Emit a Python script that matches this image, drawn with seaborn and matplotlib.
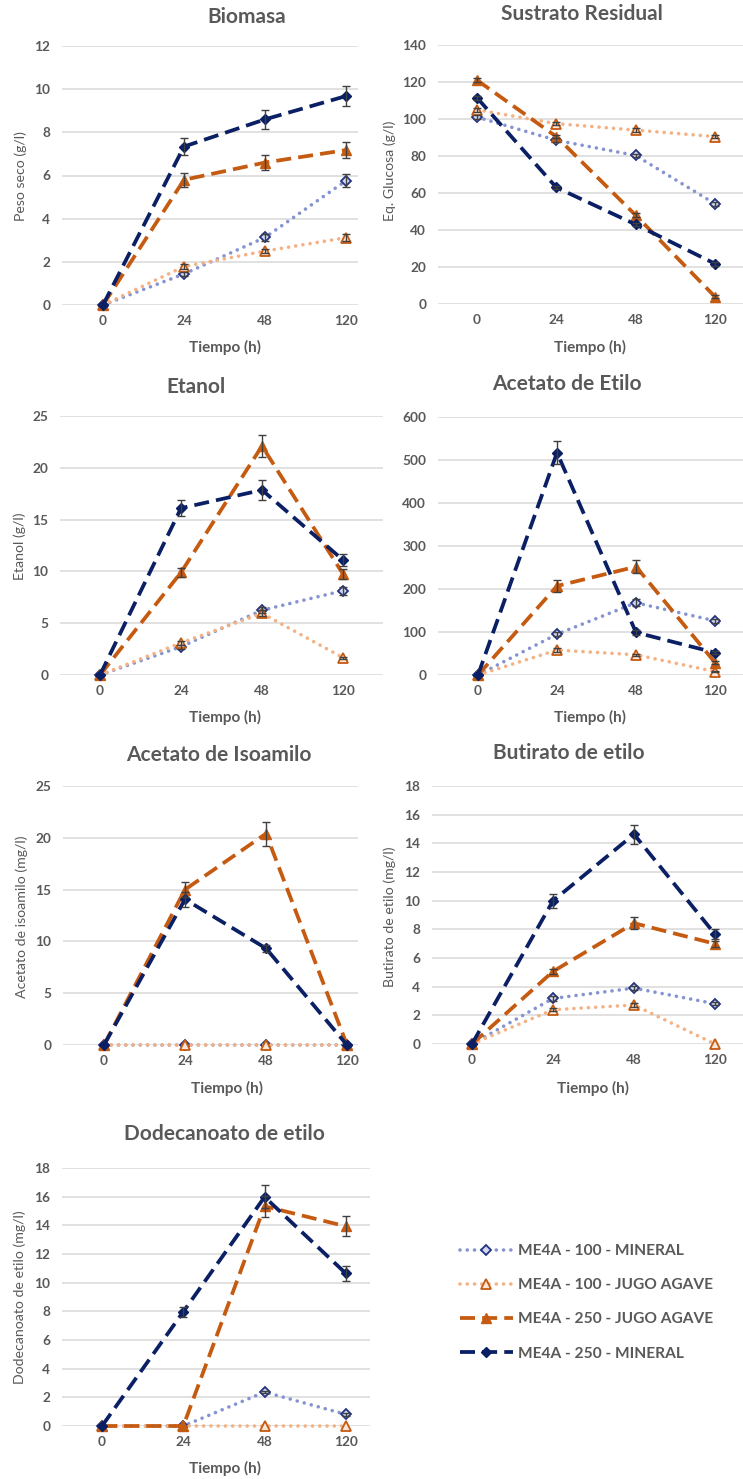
import numpy as np
import matplotlib
matplotlib.use("Agg")
import matplotlib.pyplot as plt
import seaborn as sns

# ---- data -------------------------------------------------------------
time_labels = ["0", "24", "48", "120"]
series_names = [
    "ME4A - 100 - MINERAL",
    "ME4A - 100 - JUGO AGAVE",
    "ME4A - 250 - JUGO AGAVE",
    "ME4A - 250 - MINERAL",
]

# Biomasa (g/l)
biomasa_min100 = [0, 1.44, 3.13, 5.76]
biomasa_jugo100 = [0, 1.78, 2.50, 3.12]
biomasa_jugo250 = [0, 5.80, 6.60, 7.18]
biomasa_min250 = [0, 7.34, 8.60, 9.68]
biomasa_err_min100 = [0, 0.10, 0.15, 0.30]
biomasa_err_jugo100 = [0, 0.10, 0.10, 0.15]
biomasa_err_jugo250 = [0, 0.32, 0.35, 0.38]
biomasa_err_min250 = [0, 0.38, 0.43, 0.48]

# Sustrato residual (g/l)
sustrato_min100 = [101, 88.5, 80.3, 54.2]
sustrato_jugo100 = [105, 97.5, 94.0, 90.5]
sustrato_jugo250 = [121, 90.5, 48.0, 4.0]
sustrato_min250 = [111.5, 63.0, 43.0, 21.8]
sustrato_err_min100 = [1.0, 1.0, 1.0, 1.0]
sustrato_err_jugo100 = [1.0, 1.0, 1.0, 1.0]
sustrato_err_jugo250 = [1.0, 1.0, 1.0, 1.0]
sustrato_err_min250 = [1.0, 1.0, 1.0, 1.0]

# Etanol (g/l)
etanol_min100 = [0, 2.73, 6.25, 8.14]
etanol_jugo100 = [0, 3.10, 5.95, 1.67]
etanol_jugo250 = [0, 9.90, 22.10, 9.75]
etanol_min250 = [0, 16.10, 17.86, 11.10]
etanol_err_min100 = [0, 0.20, 0.30, 0.40]
etanol_err_jugo100 = [0, 0.20, 0.30, 0.10]
etanol_err_jugo250 = [0, 0.45, 1.05, 0.45]
etanol_err_min250 = [0, 0.80, 0.95, 0.55]

# Acetato de etilo (mg/l)
acetilo_min100 = [0, 95, 168, 126]
acetilo_jugo100 = [0, 58, 47, 8]
acetilo_jugo250 = [0, 207, 252, 29]
acetilo_min250 = [0, 517, 99, 52]
acetilo_err_min100 = [0, 5, 8, 5]
acetilo_err_jugo100 = [0, 4, 3, 2]
acetilo_err_jugo250 = [0, 13, 15, 4]
acetilo_err_min250 = [0, 27, 5, 4]

# Acetato de isoamilo (mg/l)
isoamilo_min100 = [0, 0, 0, 0]
isoamilo_jugo100 = [0, 0, 0, 0]
isoamilo_jugo250 = [0, 15.0, 20.4, 0]
isoamilo_min250 = [0, 14.06, 9.33, 0]
isoamilo_err_min100 = [0, 0, 0, 0]
isoamilo_err_jugo100 = [0, 0, 0, 0]
isoamilo_err_jugo250 = [0, 0.75, 1.15, 0]
isoamilo_err_min250 = [0, 0.70, 0.35, 0]

# Butirato de etilo (mg/l)
butirato_min100 = [0, 3.18, 3.90, 2.81]
butirato_jugo100 = [0, 2.39, 2.72, 0]
butirato_jugo250 = [0, 5.06, 8.43, 6.99]
butirato_min250 = [0, 9.99, 14.63, 7.66]
butirato_err_min100 = [0, 0.15, 0.15, 0.10]
butirato_err_jugo100 = [0, 0.10, 0.15, 0]
butirato_err_jugo250 = [0, 0.20, 0.40, 0.20]
butirato_err_min250 = [0, 0.48, 0.65, 0.35]

# Dodecanoato de etilo (mg/l)
dodecanoato_min100 = [0, 0, 2.37, 0.81]
dodecanoato_jugo100 = [0, 0, 0, 0]
dodecanoato_jugo250 = [0, 0, 15.33, 13.93]
dodecanoato_min250 = [0, 7.97, 15.98, 10.64]
dodecanoato_err_min100 = [0, 0, 0.10, 0.10]
dodecanoato_err_jugo100 = [0, 0, 0, 0]
dodecanoato_err_jugo250 = [0, 0, 0.75, 0.70]
dodecanoato_err_min250 = [0, 0.35, 0.80, 0.50]

# ---- styling ----------------------------------------------------------
sns.set_style("white")
plt.rcParams["font.family"] = ["Lato", "DejaVu Sans"]
TEXT = "#595959"
GRID = "#D9D9D9"
NAVY = "#0A1F64"
ORANGE = "#C55A11"

series_styles = [
    dict(color="#8594D0", lw=2.6, linestyle=(0, (0.01, 2.0)), dash_capstyle="round",
         marker="D", ms=5.0, mfc="#D3D9F0", mec="#24337F", mew=1.3),
    dict(color="#F4B183", lw=2.6, linestyle=(0, (0.01, 2.0)), dash_capstyle="round",
         marker="^", ms=7.0, mfc="#FBE5D6", mec=ORANGE, mew=1.3),
    dict(color=ORANGE, lw=2.7, linestyle=(0, (4.0, 1.9)), dash_capstyle="butt",
         marker="^", ms=7.0, mfc=ORANGE, mec=ORANGE, mew=1.0),
    dict(color=NAVY, lw=2.7, linestyle=(0, (4.0, 1.9)), dash_capstyle="butt",
         marker="D", ms=5.0, mfc=NAVY, mec=NAVY, mew=1.0),
]

W, H = 743, 1479
fig = plt.figure(figsize=(W / 100, H / 100), dpi=100)


def fx(px):
    return px / W


def fy(py):
    return 1 - py / H


panels = [
    dict(title="Biomasa", ylabel="Peso seco (g/l)", ymax=12, ystep=2,
         values=[biomasa_min100, biomasa_jugo100, biomasa_jugo250, biomasa_min250],
         errors=[biomasa_err_min100, biomasa_err_jugo100, biomasa_err_jugo250, biomasa_err_min250],
         grid=(62, 358, 46, 305), x0=103, step=81,
         title_xy=(247, 17), ylabel_xy=(21, 176), xlabel_xy=(225, 347)),
    dict(title="Sustrato Residual", ylabel="Eq. Glucosa (g/l)", ymax=140, ystep=20,
         values=[sustrato_min100, sustrato_jugo100, sustrato_jugo250, sustrato_min250],
         errors=[sustrato_err_min100, sustrato_err_jugo100, sustrato_err_jugo250, sustrato_err_min250],
         grid=(438, 743, 45, 304), x0=477, step=79.3,
         title_xy=(582, 14), ylabel_xy=(390, 171), xlabel_xy=(590, 347)),
    dict(title="Etanol", ylabel="Etanol (g/l)", ymax=25, ystep=5,
         values=[etanol_min100, etanol_jugo100, etanol_jugo250, etanol_min250],
         errors=[etanol_err_min100, etanol_err_jugo100, etanol_err_jugo250, etanol_err_min250],
         grid=(60, 383, 416, 675), x0=100, step=81,
         title_xy=(196, 387), ylabel_xy=(20, 546), xlabel_xy=(225, 717)),
    dict(title="Acetato de Etilo", ylabel=None, ymax=600, ystep=100,
         values=[acetilo_min100, acetilo_jugo100, acetilo_jugo250, acetilo_min250],
         errors=[acetilo_err_min100, acetilo_err_jugo100, acetilo_err_jugo250, acetilo_err_min250],
         grid=(438, 743, 417, 675), x0=478, step=79,
         title_xy=(567, 384), ylabel_xy=None, xlabel_xy=(590, 717)),
    dict(title="Acetato de Isoamilo", ylabel="Acetato de isoamilo (mg/l)", ymax=25, ystep=5,
         values=[isoamilo_min100, isoamilo_jugo100, isoamilo_jugo250, isoamilo_min250],
         errors=[isoamilo_err_min100, isoamilo_err_jugo100, isoamilo_err_jugo250, isoamilo_err_min250],
         grid=(63, 358, 786, 1045), x0=104, step=81,
         title_xy=(219, 755), ylabel_xy=(22, 917), xlabel_xy=(227, 1088)),
    dict(title="Butirato de etilo", ylabel="Butirato de etilo (mg/l)", ymax=18, ystep=2,
         values=[butirato_min100, butirato_jugo100, butirato_jugo250, butirato_min250],
         errors=[butirato_err_min100, butirato_err_jugo100, butirato_err_jugo250, butirato_err_min250],
         grid=(432, 743, 786, 1044), x0=472, step=81,
         title_xy=(569, 753), ylabel_xy=(390, 917), xlabel_xy=(593, 1088)),
    dict(title="Dodecanoato de etilo", ylabel="Dodecanoato de etilo (mg/l)", ymax=18, ystep=2,
         values=[dodecanoato_min100, dodecanoato_jugo100, dodecanoato_jugo250, dodecanoato_min250],
         errors=[dodecanoato_err_min100, dodecanoato_err_jugo100, dodecanoato_err_jugo250, dodecanoato_err_min250],
         grid=(62, 370, 1168, 1426), x0=102, step=81.3,
         title_xy=(224, 1134), ylabel_xy=(20, 1297), xlabel_xy=(225, 1468)),
]

xpos = np.arange(len(time_labels))
legend_handles = None

for p in panels:
    gl, gr, gt, gb = p["grid"]
    ax = fig.add_axes([fx(gl), fy(gb), (gr - gl) / W, (gb - gt) / H])
    for name, vals, errs, st in zip(series_names, p["values"], p["errors"], series_styles):
        sns.lineplot(x=xpos, y=vals, ax=ax, sort=False, legend=False, label=name,
                     clip_on=False, zorder=3, **st)
        errs = np.asarray(errs, dtype=float)
        keep = errs > 0
        if keep.any():
            ax.errorbar(xpos[keep], np.asarray(vals, dtype=float)[keep], yerr=errs[keep],
                        fmt="none", ecolor="#404040", elinewidth=1.0, capsize=2.8,
                        capthick=1.0, zorder=4, clip_on=False)
    if legend_handles is None:
        legend_handles = [l for l in ax.get_lines() if not l.get_label().startswith("_")]

    ax.set_xlim(-(p["x0"] - gl) / p["step"], (gr - p["x0"]) / p["step"])
    ax.set_ylim(0, p["ymax"])
    ax.set_yticks(np.arange(0, p["ymax"] + p["ystep"] / 2, p["ystep"]))
    ax.set_xticks(xpos)
    ax.set_xticklabels(time_labels)
    ax.grid(axis="y", color=GRID, lw=1.1)
    ax.grid(axis="x", visible=False)
    ax.set_axisbelow(True)
    for s in ax.spines.values():
        s.set_visible(False)
    ax.tick_params(axis="both", length=0, labelsize=9.8, labelcolor=TEXT)
    ax.tick_params(axis="y", pad=8.5)
    ax.tick_params(axis="x", pad=7)
    for lab in ax.get_xticklabels() + ax.get_yticklabels():
        lab.set_fontweight("bold")

    tx, ty = p["title_xy"]
    ax.set_title(p["title"], x=(tx - gl) / (gr - gl), y=(gb - ty) / (gb - gt),
                 va="center", ha="center", fontsize=15, fontweight="bold", color=TEXT, pad=0)
    ax.set_xlabel("Tiempo (h)", fontsize=11, fontweight="bold", color=TEXT)
    lx, ly = p["xlabel_xy"]
    ax.xaxis.set_label_coords(fx(lx), fy(ly), transform=fig.transFigure)
    ax.xaxis.label.set_va("center")
    if p["ylabel"]:
        ax.set_ylabel(p["ylabel"], fontsize=10.2, color=TEXT)
        yx, yy = p["ylabel_xy"]
        ax.yaxis.set_label_coords(fx(yx), fy(yy), transform=fig.transFigure)
        ax.yaxis.label.set_va("center")

fig.legend(handles=legend_handles, labels=series_names, loc="upper left",
           bbox_to_anchor=(fx(460), fy(1244)), frameon=False,
           handlelength=3.4, handletextpad=0.35, labelspacing=1.3,
           borderpad=0, borderaxespad=0, numpoints=1,
           prop=dict(weight="bold", size=11.2), labelcolor=TEXT)

fig.savefig("out.png", dpi=100)
